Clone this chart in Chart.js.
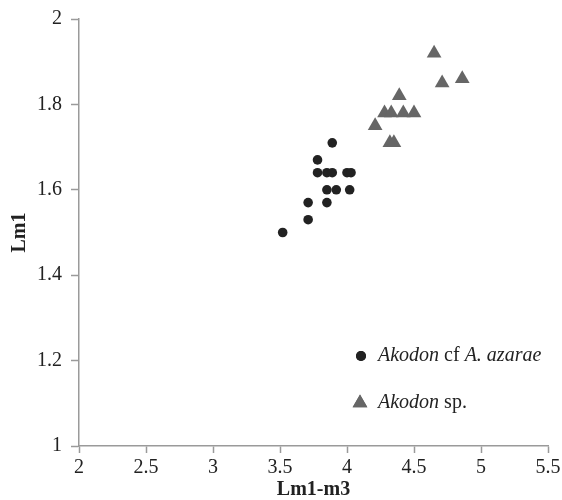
<!DOCTYPE html>
<html>
<head>
<meta charset="utf-8">
<script src="https://cdn.jsdelivr.net/npm/chart.js@4"></script>
<style>
  html, body { margin: 0; padding: 0; background: #fff; }
  #wrap { width: 562px; height: 500px; }
</style>
</head>
<body>
<div id="wrap"><canvas id="chart" width="562" height="500"></canvas></div>
<script>
// Akodon cf A. azarae (circles)
const azaraeX = [3.52, 3.71, 3.71, 3.85, 3.85, 3.92, 4.02, 3.78, 3.85, 3.89, 4.00, 4.03, 3.78, 3.89];
const azaraeY = [1.50, 1.53, 1.57, 1.57, 1.60, 1.60, 1.60, 1.64, 1.64, 1.64, 1.64, 1.64, 1.67, 1.71];
// Akodon sp. (triangles)
const spX = [4.65, 4.71, 4.86, 4.39, 4.28, 4.33, 4.42, 4.50, 4.21, 4.32, 4.35];
const spY = [1.92, 1.85, 1.86, 1.82, 1.78, 1.78, 1.78, 1.78, 1.75, 1.71, 1.71];

const xTicks = [2, 2.5, 3, 3.5, 4, 4.5, 5, 5.5];
const yTicks = [1, 1.2, 1.4, 1.6, 1.8, 2];

const serif = "'Liberation Serif', 'Times New Roman', serif";
const axisGrey = '#9a9a9a';
const textCol = '#222';

function toPoints(xs, ys) {
  return xs.map((x, i) => ({ x: x, y: ys[i] }));
}

// legend drawn by hand so italic and plain words can be mixed
const mixedLegend = {
  id: 'mixedLegend',
  afterDraw(chart) {
    const ctx = chart.ctx;
    const items = [
      { style: 'circle', color: '#222', r: 5, x: 361, y: 356,
        parts: [['italic', 'Akodon'], ['normal', ' cf '], ['italic', 'A. azarae']] },
      { style: 'triangle', color: '#666', r: 8.5, x: 360, y: 403,
        parts: [['italic', 'Akodon'], ['normal', ' sp.']] }
    ];
    ctx.save();
    items.forEach(it => {
      ctx.fillStyle = it.color;
      Chart.helpers.drawPoint(ctx, { pointStyle: it.style, radius: it.r, borderWidth: 0 }, it.x, it.y);
      ctx.fill();
      let tx = 378;
      ctx.fillStyle = textCol;
      ctx.textBaseline = 'middle';
      it.parts.forEach(p => {
        ctx.font = p[0] + ' 20px ' + serif;
        ctx.fillText(p[1], tx, it.y);
        tx += ctx.measureText(p[1]).width;
      });
    });
    ctx.restore();
  }
};

new Chart(document.getElementById('chart'), {
  type: 'scatter',
  data: {
    datasets: [
      {
        label: 'Akodon cf A. azarae',
        data: toPoints(azaraeX, azaraeY),
        pointStyle: 'circle',
        pointRadius: 4.8,
        backgroundColor: '#222',
        borderWidth: 0
      },
      {
        label: 'Akodon sp.',
        data: toPoints(spX, spY),
        pointStyle: 'triangle',
        pointRadius: 8.5,
        backgroundColor: '#666',
        borderWidth: 0
      }
    ]
  },
  options: {
    responsive: false,
    animation: false,
    layout: { padding: { left: 0, right: 14, top: 19, bottom: 0 } },
    plugins: {
      legend: { display: false },
      tooltip: { enabled: false }
    },
    scales: {
      x: {
        type: 'linear',
        min: 2, max: 5.5,
        afterBuildTicks: s => { s.ticks = xTicks.map(v => ({ value: v })); },
        afterFit: s => { s.height = 54; s.paddingLeft = 0; s.paddingRight = 0; },
        border: { color: axisGrey, width: 1.5 },
        grid: { drawOnChartArea: false, color: axisGrey, tickLength: 7, tickWidth: 1.5 },
        ticks: { color: textCol, font: { family: serif, size: 20 }, padding: 3, maxRotation: 0, callback: v => String(v) },
        title: { display: true, text: 'Lm1-m3', color: textCol, font: { family: serif, size: 20, weight: 'bold', lineHeight: 1 }, padding: { top: 0, bottom: 0 } }
      },
      y: {
        type: 'linear',
        min: 1, max: 2,
        afterBuildTicks: s => { s.ticks = yTicks.map(v => ({ value: v })); },
        afterFit: s => { s.width = 79; s.paddingTop = 0; s.paddingBottom = 0; },
        border: { color: axisGrey, width: 1.5 },
        grid: { drawOnChartArea: false, color: axisGrey, tickLength: 8, tickWidth: 1.5 },
        ticks: { color: textCol, font: { family: serif, size: 20 }, padding: 9, callback: v => String(v) },
        title: { display: true, text: 'Lm1', color: textCol, font: { family: serif, size: 20, weight: 'bold', lineHeight: 1 }, padding: { top: 10, bottom: 0 } }
      }
    }
  },
  plugins: [mixedLegend]
});
</script>
</body>
</html>
